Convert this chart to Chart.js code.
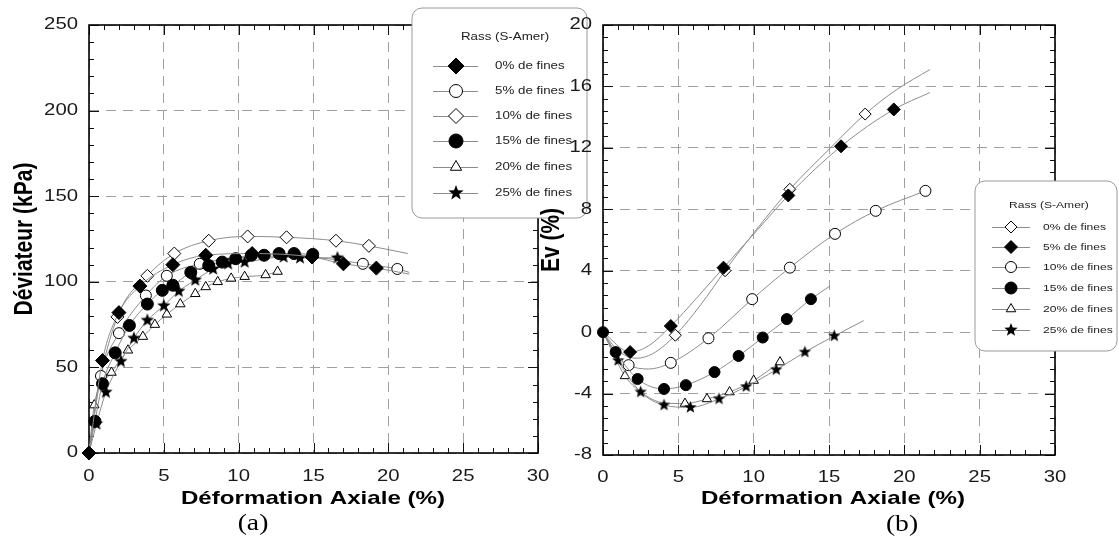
<!DOCTYPE html>
<html>
<head>
<meta charset="utf-8">
<script src="https://cdn.jsdelivr.net/npm/chart.js@4.4.0/dist/chart.umd.min.js"></script>
<style>
  html, body { margin: 0; padding: 0; background: #fff; }
  #wrap { position: relative; width: 1119px; height: 540px; overflow: hidden; }
  canvas { position: absolute; top: 0; }
  #chartA { left: 0; }
  #chartB { left: 530px; }
</style>
</head>
<body>
<div id="wrap">
  <canvas id="chartA" width="600" height="540"></canvas>
  <canvas id="chartB" width="589" height="540"></canvas>
</div>
<script>
// --- data ---
const xTicks = [0, 5, 10, 15, 20, 25, 30];
const devTicks = [0, 50, 100, 150, 200, 250];
const evTicks = [-8, -4, 0, 4, 8, 12, 16, 20];
const fineLabels = ['0% de fines', '5% de fines', '10% de fines', '15% de fines', '20% de fines', '25% de fines'];
const legendTitle = 'Rass (S-Amer)';

// (a) Déviateur (kPa) vs Déformation axiale (%)
const a0x = [0, 0.9, 2.0, 3.4, 5.6, 7.8, 10.9, 14.9, 17.0, 19.2, 21.4];
const a0y = [0, 54, 82, 97.5, 110, 115.5, 116.5, 114.5, 110.5, 108, 104.5];
const a0m = [1, 1, 1, 1, 1, 1, 1, 1, 1, 1, 0];

const a5x = [0, 0.8, 2.0, 3.8, 5.2, 7.4, 10.5, 13.5, 16.0, 18.3, 20.6, 21.4];
const a5y = [0, 45, 70, 92, 103.5, 110.5, 114.5, 115, 113.5, 110.5, 107.5, 105.5];
const a5m = [0, 1, 1, 1, 1, 1, 0, 0, 0, 1, 1, 0];

const a10x = [0, 0.5, 1.9, 3.9, 5.7, 8.0, 10.6, 13.2, 16.5, 18.7, 21.3];
const a10y = [0, 32, 79.5, 103.5, 116.5, 124, 126.5, 126, 124, 121, 116.5];
const a10m = [0, 0, 1, 1, 1, 1, 1, 1, 1, 1, 0];

const a15x = [0, 0.4, 0.9, 1.75, 2.7, 3.9, 4.9, 5.6, 6.8, 8.0, 8.9, 9.8, 10.85, 11.7, 12.7, 13.7, 14.95];
const a15y = [0, 18.5, 40.5, 58.5, 74.5, 87, 95, 98, 105.5, 109.5, 111.5, 113.5, 115.5, 115.5, 116.5, 116.5, 116];
const a15m = [0, 1, 1, 1, 1, 1, 1, 1, 1, 1, 1, 1, 1, 1, 1, 1, 1];

const a20x = [0, 0.35, 1.5, 2.6, 3.6, 4.4, 5.2, 6.1, 7.1, 7.8, 8.6, 9.5, 10.4, 11.8, 12.6];
const a20y = [0, 28, 47, 60, 68, 75, 81, 87, 93, 97, 100, 102, 103, 104, 106];
const a20m = [0, 1, 1, 1, 1, 1, 1, 1, 1, 1, 1, 1, 1, 1, 1];

const a25x = [0, 0.5, 1.13, 2.13, 3.0, 3.9, 5.0, 6.0, 7.1, 8.3, 9.3, 10.4, 13.0, 14.1, 16.6];
const a25y = [0, 17, 35.5, 53.5, 67, 77.5, 86, 94.5, 101, 107.5, 110.5, 111.5, 114.5, 114, 114];
const a25m = [0, 1, 1, 1, 1, 1, 1, 1, 1, 1, 1, 1, 1, 1, 1];

// (b) Ev (%) vs Déformation axiale (%)
const b0x = [0, 1.0, 2.2, 3.3, 4.8, 6.5, 8.1, 10.2, 12.4, 15.0, 17.4, 19.5, 21.7];
const b0y = [0, -1.2, -1.7, -1.4, -0.2, 1.8, 4.0, 6.7, 9.3, 11.9, 14.2, 15.8, 17.1];
const b0m = [0, 0, 0, 0, 1, 0, 1, 0, 1, 0, 1, 0, 0];

const b5x = [0, 1.8, 3.0, 4.5, 6.2, 8.0, 10.2, 12.3, 15.8, 19.3, 21.7];
const b5y = [0, -1.3, -0.9, 0.4, 2.2, 4.2, 6.6, 8.9, 12.1, 14.5, 15.6];
const b5m = [0, 1, 0, 1, 0, 1, 0, 1, 1, 1, 0];

const b10x = [0, 1.0, 1.7, 3.0, 4.5, 7.0, 9.9, 12.4, 15.4, 18.1, 21.4];
const b10y = [0, -1.6, -2.15, -2.4, -2.0, -0.4, 2.15, 4.2, 6.4, 7.9, 9.2];
const b10m = [0, 0, 1, 0, 1, 1, 1, 1, 1, 1, 1];

const b15x = [0, 0.84, 2.3, 4.05, 5.5, 7.4, 9.0, 10.6, 12.2, 13.8, 15.06];
const b15y = [0, -1.3, -3.05, -3.7, -3.45, -2.6, -1.55, -0.35, 0.85, 2.15, 3.0];
const b15m = [1, 1, 1, 1, 1, 1, 1, 1, 1, 1, 0];

const b20x = [0, 1.46, 2.8, 4.0, 5.44, 6.9, 8.4, 10.0, 11.75];
const b20y = [0, -2.85, -4.1, -4.6, -4.65, -4.35, -3.9, -3.15, -1.95];
const b20m = [0, 1, 0, 0, 1, 1, 1, 1, 1];

const b25x = [0, 1.0, 2.5, 4.05, 5.8, 7.7, 9.5, 11.5, 13.4, 15.35, 17.3];
const b25y = [0, -1.85, -3.9, -4.75, -4.9, -4.35, -3.55, -2.45, -1.3, -0.25, 0.75];
const b25m = [0, 1, 1, 1, 1, 1, 1, 1, 1, 1, 0];

// --- styling ---
const LINE = '#8c8c8c';
const SX = 1.27; // the source figure's lettering is wide

function makeStar(r) {
    const c = document.createElement('canvas');
    const s = Math.ceil(r * 2 + 2);
    c.width = s; c.height = s;
    const g = c.getContext('2d');
    g.translate(s / 2, s / 2);
    g.beginPath();
    for (let i = 0; i < 10; i++) {
        const rr = i % 2 === 0 ? r : r * 0.42;
        const ang = -Math.PI / 2 + i * Math.PI / 5;
        g.lineTo(rr * Math.cos(ang), rr * Math.sin(ang));
    }
    g.closePath();
    g.fillStyle = '#000';
    g.fill();
    return c;
}

// kind -> marker look
const kinds = {
    fd: { style: 'rectRot', fill: '#000' },
    od: { style: 'rectRot', fill: '#fff' },
    fc: { style: 'circle', fill: '#000' },
    oc: { style: 'circle', fill: '#fff' },
    ot: { style: 'triangle', fill: '#fff' },
    st: { style: 'star', fill: '#000' }
};

function makeSet(xs, ys, mk, kind, r) {
    const k = kinds[kind];
    return {
        data: xs.map((x, i) => ({ x: x, y: ys[i] })),
        borderColor: LINE,
        borderWidth: 1,
        cubicInterpolationMode: 'monotone',
        pointStyle: k.style === 'star' ? makeStar(r) : k.style,
        pointRadius: mk.map(m => m ? r : 0),
        pointBackgroundColor: k.fill,
        pointBorderColor: '#000',
        pointBorderWidth: 1,
        clip: false
    };
}

function wideText(ctx, s, x, y, font, align, rot, sx) {
    ctx.save();
    ctx.translate(x, y);
    ctx.scale(sx || SX, 1);
    if (rot) ctx.rotate(rot);
    ctx.font = font;
    ctx.textAlign = align;
    ctx.textBaseline = 'middle';
    ctx.fillText(s, 0, 0);
    ctx.restore();
}

function legendMark(ctx, kind, x, y, r) {
    const k = kinds[kind];
    ctx.save();
    ctx.fillStyle = k.fill;
    ctx.strokeStyle = '#000';
    ctx.lineWidth = 1;
    if (k.style === 'star') {
        const img = makeStar(r);
        ctx.drawImage(img, x - img.width / 2, y - img.height / 2);
    } else {
        ctx.beginPath();
        if (k.style === 'circle') {
            ctx.arc(x, y, r, 0, Math.PI * 2);
        } else if (k.style === 'rectRot') {
            ctx.moveTo(x, y - r); ctx.lineTo(x + r, y); ctx.lineTo(x, y + r); ctx.lineTo(x - r, y);
        } else {
            ctx.moveTo(x, y - r); ctx.lineTo(x + r * 0.866, y + r * 0.5); ctx.lineTo(x - r * 0.866, y + r * 0.5);
        }
        ctx.closePath();
        ctx.fill();
        ctx.stroke();
    }
    ctx.restore();
}

// frame, minor ticks, labels, titles and legend box
const framePlugin = {
    id: 'frame',
    beforeDatasetsDraw(chart, args, o) {
        const { ctx, chartArea: a } = chart;
        const xs = chart.scales.x, ys = chart.scales.y;
        ctx.save();
        ctx.strokeStyle = '#111';
        ctx.lineWidth = 1;
        ctx.beginPath();
        const nx = Math.round((xs.max - xs.min) / o.xMinor);
        for (let i = 0; i <= nx; i++) {
            const px = Math.round(xs.getPixelForValue(xs.min + i * o.xMinor)) + 0.5;
            const len = i % o.xEvery === 0 ? 10 : 5;
            ctx.moveTo(px, a.bottom); ctx.lineTo(px, a.bottom - len);
            ctx.moveTo(px, a.top); ctx.lineTo(px, a.top + len);
        }
        const ny = Math.round((ys.max - ys.min) / o.yMinor);
        for (let i = 0; i <= ny; i++) {
            const py = Math.round(ys.getPixelForValue(ys.min + i * o.yMinor)) + 0.5;
            const len = i % o.yEvery === 0 ? 10 : 5;
            ctx.moveTo(a.left, py); ctx.lineTo(a.left + len, py);
            ctx.moveTo(a.right, py); ctx.lineTo(a.right - len, py);
        }
        ctx.stroke();
        ctx.lineWidth = 1.6;
        ctx.strokeStyle = '#000';
        ctx.strokeRect(a.left, a.top, a.width, a.height);
        ctx.restore();
    },
    afterDraw(chart, args, o) {
        const { ctx, chartArea: a } = chart;
        const xs = chart.scales.x, ys = chart.scales.y;
        ctx.save();
        ctx.fillStyle = '#1a1a1a';
        const tickFont = '16px "Liberation Sans", Arial, sans-serif';
        o.xLabels.forEach(v => wideText(ctx, String(v), xs.getPixelForValue(v), o.xLabelY, tickFont, 'center'));
        o.yLabels.forEach(v => wideText(ctx, String(v), o.yLabelX, ys.getPixelForValue(v), tickFont, 'right'));
        ctx.fillStyle = '#000';
        wideText(ctx, o.xTitle, o.xTitleX, o.xTitleY, 'bold 19px "Liberation Sans", Arial, sans-serif', 'center');
        wideText(ctx, o.yTitle, o.yTitleX, (a.top + a.bottom) / 2, 'bold 21px "Liberation Sans", Arial, sans-serif', 'center', -Math.PI / 2);
        wideText(ctx, o.caption, o.capX, o.capY, '24px "Liberation Serif", "Times New Roman", serif', 'center', 0, 1.15);

        // legend
        const L = o.legend;
        ctx.beginPath();
        ctx.roundRect(L.x, L.y, L.w, L.h, 10);
        ctx.fillStyle = '#fff';
        ctx.fill();
        ctx.strokeStyle = '#9a9a9a';
        ctx.lineWidth = 1;
        ctx.stroke();
        ctx.fillStyle = '#222';
        const lf = L.font + 'px "Liberation Sans", Arial, sans-serif';
        wideText(ctx, legendTitle, L.titleX, L.titleY, lf, 'center');
        L.rows.forEach((ry, i) => {
            ctx.strokeStyle = LINE;
            ctx.beginPath();
            ctx.moveTo(L.lx0, ry + 0.5); ctx.lineTo(L.lx1, ry + 0.5);
            ctx.stroke();
            legendMark(ctx, L.kinds[i], L.mx, ry, L.sizes[i]);
            ctx.fillStyle = '#222';
            wideText(ctx, fineLabels[i], L.tx, ry, lf, 'left');
        });
        ctx.restore();
    }
};

function axes(xMin, xMax, yMin, yMax, yStep, yWidth, xHeight) {
    const gridCol = '#a0a0a0';
    return {
        x: {
            type: 'linear', min: xMin, max: xMax,
            ticks: { stepSize: 5, display: false },
            grid: { color: gridCol, lineWidth: 1, drawTicks: false },
            border: { display: false, dash: [10, 7] },
            afterFit: s => { s.height = xHeight; }
        },
        y: {
            type: 'linear', min: yMin, max: yMax,
            ticks: { stepSize: yStep, display: false },
            grid: { color: gridCol, lineWidth: 1, drawTicks: false },
            border: { display: false, dash: [10, 7] },
            afterFit: s => { s.width = yWidth; }
        }
    };
}

// (a) chart
new Chart(document.getElementById('chartA'), {
    type: 'line',
    data: {
        datasets: [
            makeSet(a0x, a0y, a0m, 'fd', 7),
            makeSet(a15x, a15y, a15m, 'fc', 6),
            makeSet(a25x, a25y, a25m, 'st', 7),
            makeSet(a5x, a5y, a5m, 'oc', 5.5),
            makeSet(a10x, a10y, a10m, 'od', 6.5),
            makeSet(a20x, a20y, a20m, 'ot', 5.5)
        ]
    },
    options: {
        responsive: false,
        animation: false,
        events: [],
        layout: { padding: { left: 0, right: 62, top: 25, bottom: 0 } },
        scales: axes(0, 30, 0, 250, 50, 89, 87),
        plugins: {
            legend: { display: false },
            tooltip: { enabled: false },
            frame: {
                xMinor: 1, xEvery: 5, yMinor: 10, yEvery: 5,
                xLabels: xTicks, yLabels: devTicks,
                xLabelY: 477, yLabelX: 78,
                xTitle: 'Déformation Axiale (%)', xTitleX: 313, xTitleY: 499,
                yTitle: 'Déviateur (kPa)', yTitleX: 25,
                caption: '(a)', capX: 253, capY: 524,
                legend: {
                    x: 412, y: 8, w: 175, h: 210, font: 10.5,
                    titleX: 505, titleY: 37,
                    rows: [66, 91, 116, 141, 167, 193],
                    lx0: 433, lx1: 478, mx: 456, tx: 495,
                    kinds: ['fd', 'oc', 'od', 'fc', 'ot', 'st'],
                    sizes: [8, 6.5, 7.5, 7, 6.5, 8]
                }
            }
        }
    },
    plugins: [framePlugin]
});

// (b) chart
new Chart(document.getElementById('chartB'), {
    type: 'line',
    data: {
        datasets: [
            makeSet(b15x, b15y, b15m, 'fc', 5.5),
            makeSet(b5x, b5y, b5m, 'fd', 6.5),
            makeSet(b25x, b25y, b25m, 'st', 6.5),
            makeSet(b0x, b0y, b0m, 'od', 6),
            makeSet(b10x, b10y, b10m, 'oc', 5.5),
            makeSet(b20x, b20y, b20m, 'ot', 5.5)
        ]
    },
    options: {
        responsive: false,
        animation: false,
        events: [],
        layout: { padding: { left: 0, right: 64, top: 25, bottom: 0 } },
        scales: axes(0, 30, -8, 20, 4, 73, 85),
        plugins: {
            legend: { display: false },
            tooltip: { enabled: false },
            frame: {
                xMinor: 1, xEvery: 5, yMinor: 0.8, yEvery: 5,
                xLabels: xTicks, yLabels: evTicks,
                xLabelY: 478, yLabelX: 62,
                xTitle: 'Déformation Axiale (%)', xTitleX: 303, xTitleY: 499,
                yTitle: 'Ev (%)', yTitleX: 22,
                caption: '(b)', capX: 372, capY: 525,
                legend: {
                    x: 445, y: 181, w: 142, h: 170, font: 9.5,
                    titleX: 519, titleY: 205,
                    rows: [227, 247, 267, 288, 309, 330],
                    lx0: 462, lx1: 500, mx: 481, tx: 513,
                    kinds: ['od', 'fd', 'oc', 'fc', 'ot', 'st'],
                    sizes: [6, 6.5, 5.5, 6, 5.5, 7]
                }
            }
        }
    },
    plugins: [framePlugin]
});
</script>
</body>
</html>
